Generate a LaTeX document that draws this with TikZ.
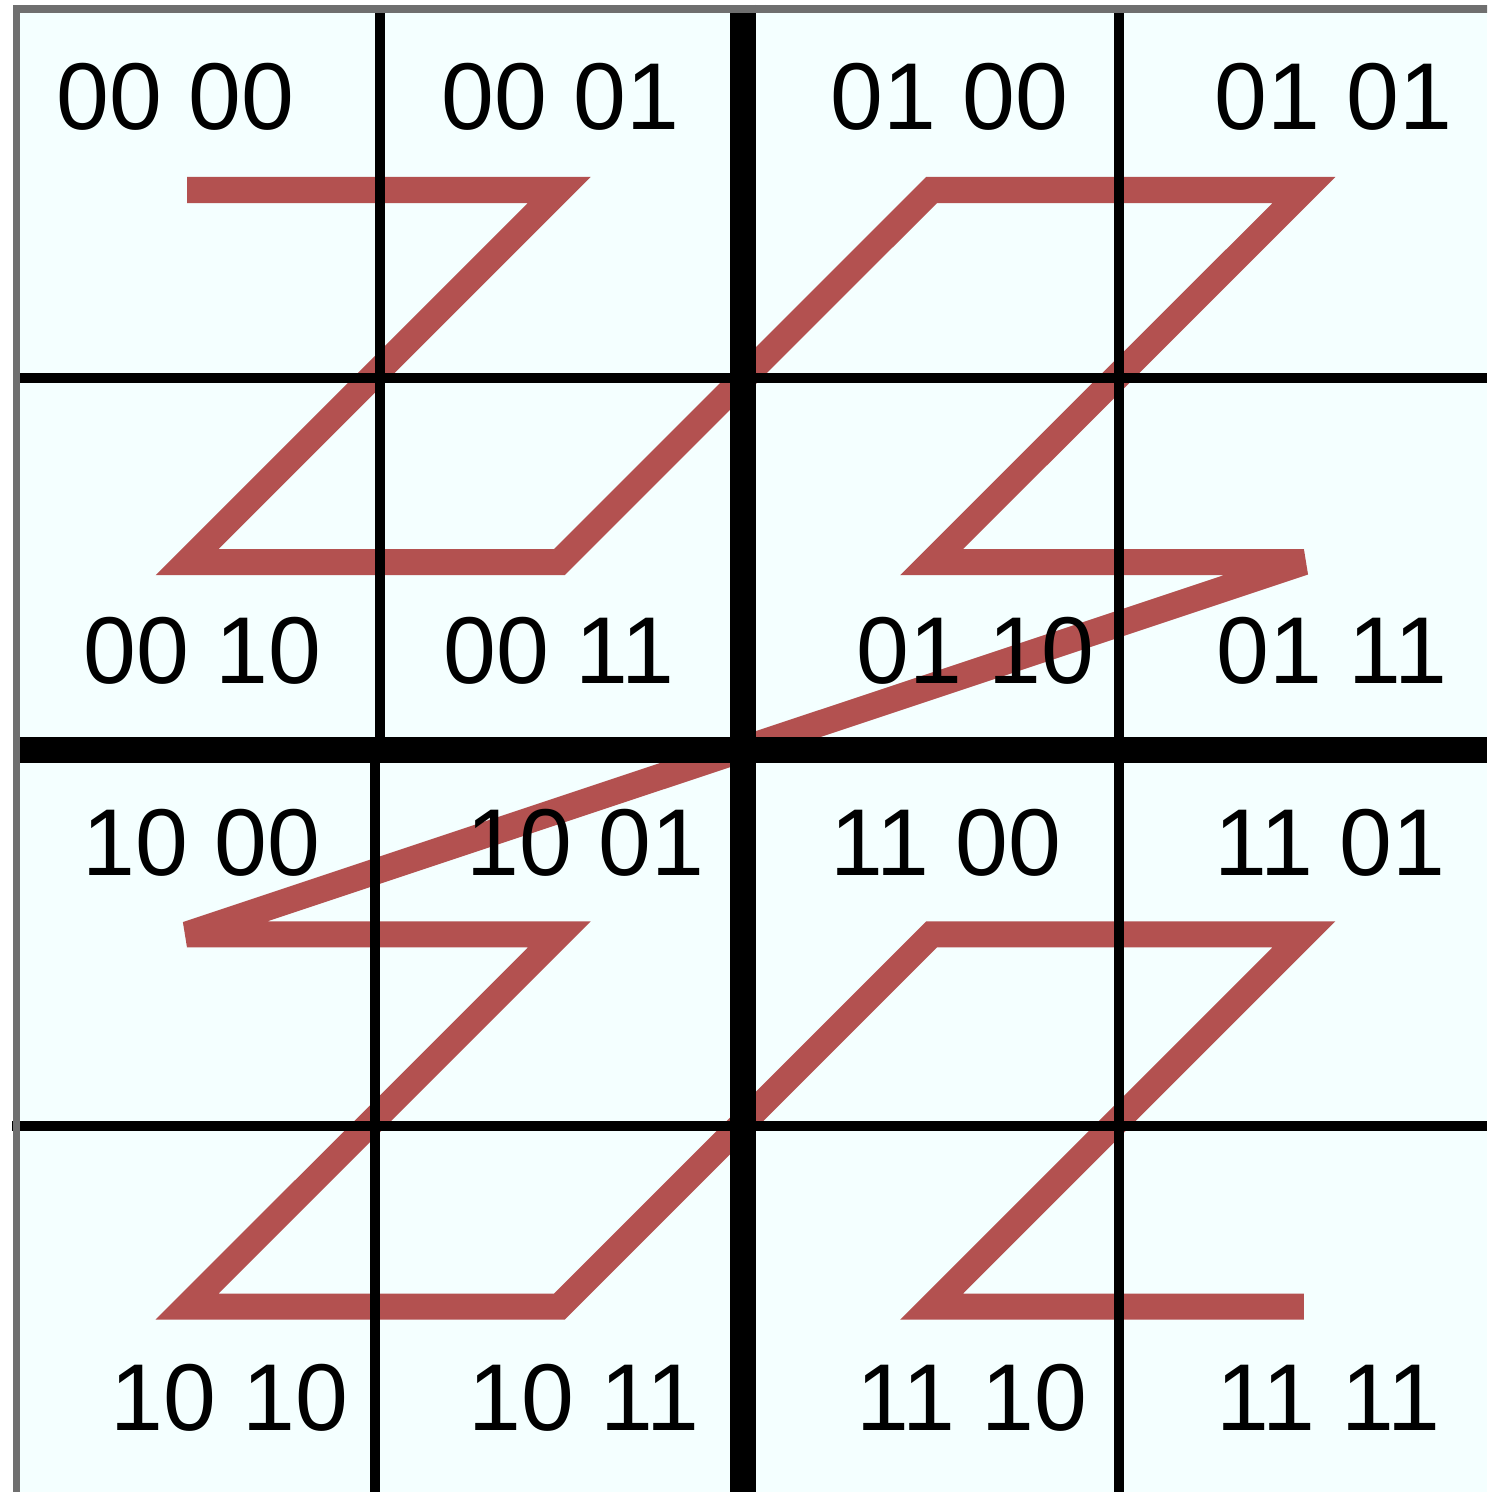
\documentclass[tikz,border=0pt]{standalone}
\usepackage{fontspec}
\setmainfont{Liberation Sans}
\usetikzlibrary{positioning,calc}
\definecolor{cellfill}{RGB}{244,255,255}
\definecolor{zred}{RGB}{179,81,80}
\definecolor{framegray}{RGB}{111,111,111}

\begin{document}
\begin{tikzpicture}[x=0.01cm, y=-0.01cm,
        minor/.style={draw=black, line width=2.85pt},
        major/.style={draw=black, line width=7.2pt},
        zcurve/.style={draw=zred, line width=7.4pt, miter limit=3},
        code/.style={anchor=west, inner sep=0pt, font=\fontsize{27pt}{33pt}\selectfont}]

        \useasboundingbox (0,0) rectangle (1487,1492);
        \clip (0,0) rectangle (1487,1492);
        \fill [cellfill] (16.5,9) rectangle (1487,1492);

        % curve points, row and column
        \foreach \r in {0,...,3}
            \foreach \c in {0,...,3}
                \coordinate (p\r\c) at ({187+372.3*\c},{190+372.2*\r});

        \path [zcurve] (p00) -- (p01) -- (p10) -- (p11) -- (p02) -- (p03) -- (p12) -- (p13)
            -- (p20) -- (p21) -- (p30) -- (p31) -- (p22) -- (p23) -- (p32) -- (p33);

        % grid
        \path [minor] (380,9) -- (380,750);
        \path [minor] (375,750) -- (375,1492);
        \path [minor] (1119,9) -- (1119,1492);
        \path [minor] (16,378) -- (1487,378);
        \path [minor] (12,1126) -- (1487,1126);
        \path [major] (743,5) -- (743,1492);
        \path [major] (16,750) -- (1487,750);
        \path [draw=framegray, line width=2pt] (16.5,1500) -- (16.5,9) -- (1500,9);

        % labels
        \node [code] (c0000) at (56,97) {00 00};
        \node [code] (c0001) at (441,97) {00 01};
        \node [code] (c0100) at (830,97) {01 00};
        \node [code] (c0101) at (1214,97) {01 01};
        \node [code] (c0010) at (83,651) {00 10};
        \node [code] (c0011) at (443,651) {00 11};
        \node [code] (c0110) at (856,651) {01 10};
        \node [code] (c0111) at (1216,651) {01 11};
        \node [code] (c1000) at (82,843) {10 00};
        \node [code] (c1001) at (466,843) {10 01};
        \node [code] (c1100) at (830,843) {11 00};
        \node [code] (c1101) at (1214,843) {11 01};
        \node [code] (c1010) at (110,1398) {10 10};
        \node [code] (c1011) at (468,1398) {10 11};
        \node [code] (c1110) at (856,1398) {11 10};
        \node [code] (c1111) at (1216,1398) {11 11};
    \end{tikzpicture}
\end{document}
